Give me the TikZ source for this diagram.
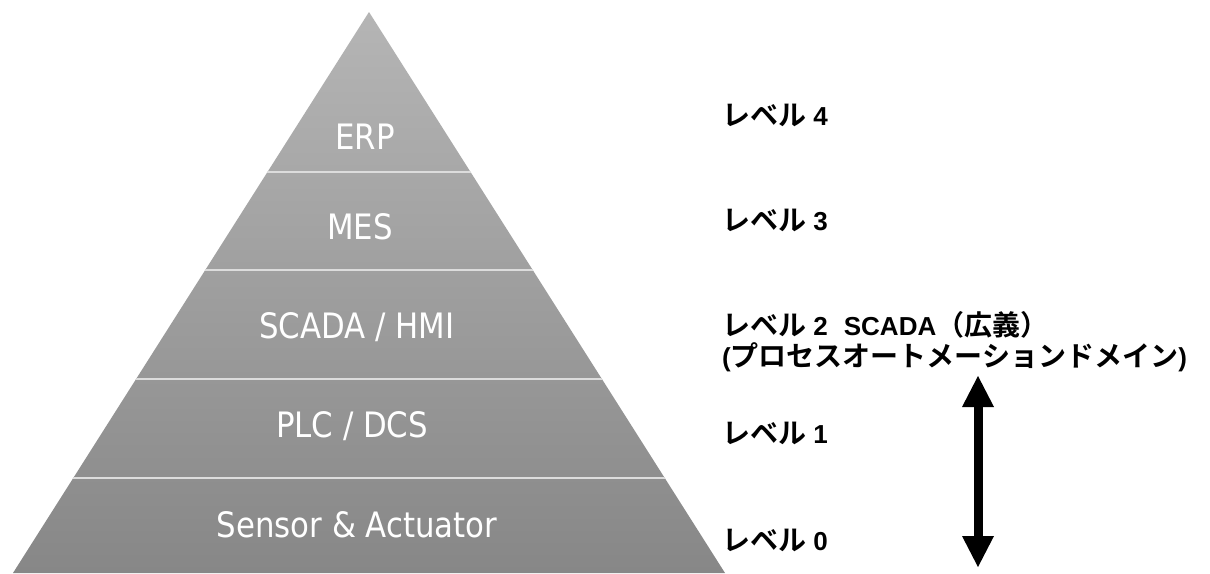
\documentclass[tikz,border=0pt]{standalone}
\usepackage{fontspec}
\usetikzlibrary{arrows.meta}
\setmainfont{Liberation Sans}
\newfontfamily\pyrfont[FakeStretch=0.88]{DejaVu Sans}
\newfontfamily\arb{Liberation Sans Bold}
\newfontfamily\jp{Noto Sans CJK JP Bold}
\newcommand\jpt[1]{{\jp\fontsize{28}{32}\selectfont #1}}
\newcommand\lvlword{\jpt{レベル}}
\definecolor{pyrtop}{HTML}{B5B5B5}
\definecolor{pyrbot}{HTML}{878787}
\definecolor{sepline}{HTML}{DCDCDC}
\begin{document}
\begin{tikzpicture}[x=1pt,y=-1pt,
  pyrtext/.style={anchor=base,text=white,font=\pyrfont\fontsize{35}{40}\selectfont,inner sep=0pt},
  lvltext/.style={anchor=base west,text=black,font=\arb\fontsize{26}{30}\selectfont,inner sep=0pt},
  sep/.style={draw=sepline,line width=2pt},
  dblarrow/.style={line width=9pt,{Triangle[length=31pt,width=32pt,line width=0pt]}-{Triangle[length=31pt,width=32pt,line width=0pt]}}
]
\useasboundingbox (0,0) rectangle (1210,573);
\fill[white] (0,0) rectangle (1210,573);
\coordinate (apex) at (369,12);
\coordinate (bl) at (13,573);
\coordinate (br) at (725,573);
\shade[top color=pyrtop,bottom color=pyrbot] (apex) -- (br) -- (bl) -- cycle;
\begin{scope}
\clip (apex) -- (br) -- (bl) -- cycle;
\draw[sep] (0,172) -- (740,172);
\draw[sep] (0,270) -- (740,270);
\draw[sep] (0,379) -- (740,379);
\draw[sep] (0,478) -- (740,478);
\end{scope}
\node[pyrtext] (erp) at (365,149) {ERP};
\node[pyrtext] (mes) at (360,239) {MES};
\node[pyrtext] (scada) at (357,338) {SCADA / HMI};
\node[pyrtext] (plc) at (352,437) {PLC / DCS};
\node[pyrtext] (sensor) at (357,537) {Sensor \& Actuator};
\node[lvltext] (l4) at (722,125) {\lvlword\ 4};
\node[lvltext] (l3) at (722,230) {\lvlword\ 3};
\node[lvltext] (l2) at (722,335) {\lvlword\ 2\hspace{16pt}SCADA\jpt{（広義）}};
\node[lvltext] (l2b) at (722,366) {(\jpt{プロセスオートメーションドメイン})};
\node[lvltext] (l1) at (722,443) {\lvlword\ 1};
\node[lvltext] (l0) at (722,550) {\lvlword\ 0};
\coordinate (atop) at (978,376);
\coordinate (abot) at (978,567);
\draw[dblarrow] (atop) -- (abot);
\end{tikzpicture}
\end{document}
